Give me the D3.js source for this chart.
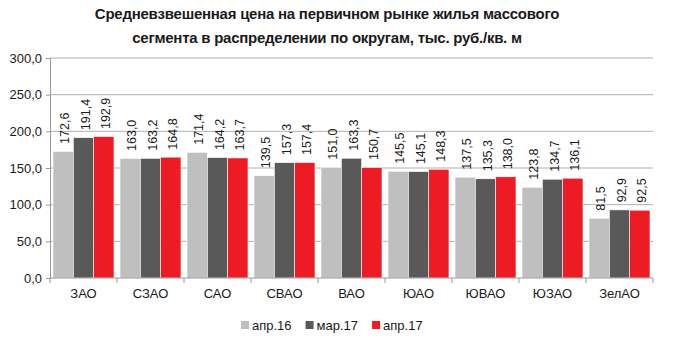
<!DOCTYPE html>
<html><head><meta charset="utf-8">
<script src="https://cdn.jsdelivr.net/npm/d3@7"></script>
<style>
body{margin:0;background:#fff;}
text{font-family:"Liberation Sans",Arial,sans-serif;}
</style></head>
<body><svg id="chart" width="676" height="350"></svg>
<script>
const districts = ["ЗАО","СЗАО","САО","СВАО","ВАО","ЮАО","ЮВАО","ЮЗАО","ЗелАО"];
const seriesNames = ["апр.16","мар.17","апр.17"];
const apr16 = [172.6,163.0,171.4,139.5,151.0,145.5,137.5,123.8,81.5];
const mar17 = [191.4,163.2,164.2,157.3,163.3,145.1,135.3,134.7,92.9];
const apr17 = [192.9,164.8,163.7,157.4,150.7,148.3,138.0,136.1,92.5];
const yTicks = [0,50,100,150,200,250,300];
const colors = ["#bfbfbf","#595959","#ed1c24"];

const series = [apr16, mar17, apr17];
const svg = d3.select("#chart");
const m = {left:50, right:23, top:58, bottom:72};
const W = 676, H = 350;
const fmt = v => d3.format(".1f")(v).replace(".", ",");

const x = d3.scaleBand().domain(districts).range([m.left, W-m.right]).paddingInner(0.09).paddingOuter(0.045);
const xs = d3.scaleBand().domain(d3.range(3)).range([0, x.bandwidth()]);
const y = d3.scaleLinear().domain([0,300]).range([H-m.bottom, m.top]);

// title
svg.append("g").selectAll("text")
  .data(["Средневзвешенная цена на первичном рынке жилья массового","сегмента в распределении по округам, тыс. руб./кв. м"])
  .join("text")
  .attr("x", 327).attr("y", (d,i)=>19+i*24)
  .attr("text-anchor","middle").attr("font-size",15).attr("font-weight","bold")
  .attr("fill","#1a1a1a").attr("letter-spacing",-0.25)
  .text(d=>d);

// grid
svg.append("g").selectAll("line").data(yTicks.slice(1)).join("line")
  .attr("x1", m.left).attr("x2", W-m.right)
  .attr("y1", d=>y(d)).attr("y2", d=>y(d))
  .attr("stroke","#b0b0b0").attr("stroke-width",1);

// y axis
const yAxis = d3.axisLeft(y).tickValues(yTicks).tickFormat(fmt).tickSize(4).tickPadding(4);
const gy = svg.append("g").attr("transform",`translate(${m.left},0)`).call(yAxis);
gy.select(".domain").attr("stroke","#999");
gy.selectAll(".tick line").attr("stroke","#999");
gy.selectAll(".tick text").attr("font-size",13).attr("fill","#1a1a1a").attr("font-family","Liberation Sans, Arial, sans-serif");

// bars
const groups = svg.append("g").selectAll("g").data(districts).join("g")
  .attr("transform", d=>`translate(${x(d)},0)`);
groups.selectAll("rect").data((d,i)=>series.map((s,k)=>({k, v:s[i]}))).join("rect")
  .attr("x", d=>xs(d.k)).attr("width", xs.bandwidth())
  .attr("y", d=>y(d.v)).attr("height", d=>y(0)-y(d.v))
  .attr("fill", d=>colors[d.k]).attr("stroke","#fff").attr("stroke-width",0.6);
// rotated value labels above each bar
groups.selectAll("text").data((d,i)=>series.map((s,k)=>({k, v:s[i]}))).join("text")
  .attr("transform", d=>`translate(${xs(d.k)+xs.bandwidth()/2+6},${y(d.v)-7.5}) rotate(-90)`)
  .attr("font-size",12.5).attr("fill","#1a1a1a")
  .text(d=>fmt(d.v));

// x axis
const xAxisY = y(0);
svg.append("line").attr("x1",m.left).attr("x2",W-m.right).attr("y1",xAxisY).attr("y2",xAxisY).attr("stroke","#999");
const bounds = districts.map(d=>x(d)-x.step()*x.paddingInner()/2).concat([W-m.right]);
svg.append("g").selectAll("line").data(bounds).join("line")
  .attr("x1",d=>d).attr("x2",d=>d).attr("y1",xAxisY).attr("y2",xAxisY+5).attr("stroke","#999");
svg.append("g").selectAll("text").data(districts).join("text")
  .attr("x", d=>x(d)+x.bandwidth()/2).attr("y", xAxisY+20)
  .attr("text-anchor","middle").attr("font-size",13).attr("fill","#1a1a1a").text(d=>d);

// legend
const lg = svg.append("g").attr("transform","translate(241,330)");
let lx = 0;
seriesNames.forEach((n,i)=>{
  lg.append("rect").attr("x",lx).attr("y",-9).attr("width",8).attr("height",8).attr("fill",colors[i]);
  const t = lg.append("text").attr("x",lx+11).attr("y",0).attr("font-size",13).attr("fill","#1a1a1a").text(n);
  lx += 11 + t.node().getComputedTextLength() + 14;
});
</script></body></html>
